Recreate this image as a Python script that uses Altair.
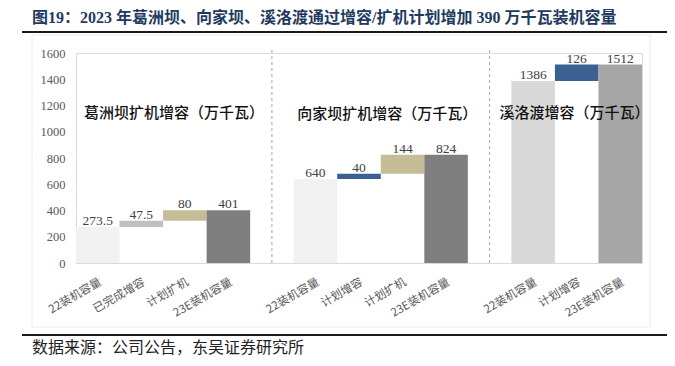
import altair as alt
import pandas as pd

title_text = "图19：2023 年葛洲坝、向家坝、溪洛渡通过增容/扩机计划增加 390 万千瓦装机容量"
source_text = "数据来源：公司公告，东吴证券研究所"

g1_labels = ["22装机容量", "已完成增容", "计划扩机", "23E装机容量"]
g1_values = [273.5, 47.5, 80, 401]
g1_kinds = ["total", "step", "step", "total"]
g1_colors = ["#F2F2F2", "#BFBFBF", "#C4BD97", "#7F7F7F"]

g2_labels = ["22装机容量", "计划增容", "计划扩机", "23E装机容量"]
g2_values = [640, 40, 144, 824]
g2_kinds = ["total", "step", "step", "total"]
g2_colors = ["#F2F2F2", "#3A6191", "#C4BD97", "#7F7F7F"]

g3_labels = ["22装机容量", "计划增容", "23E装机容量"]
g3_values = [1386, 126, 1512]
g3_kinds = ["total", "step", "total"]
g3_colors = ["#D9D9D9", "#3A6191", "#A6A6A6"]

group_titles = ["葛洲坝扩机增容（万千瓦）", "向家坝扩机增容（万千瓦）", "溪洛渡增容（万千瓦）"]
group_title_y = [1143, 1135, 1143]

y_ticks = [0, 200, 400, 600, 800, 1000, 1200, 1400, 1600]

# ---- build table ----
groups = [
    (g1_labels, g1_values, g1_kinds, g1_colors),
    (g2_labels, g2_values, g2_kinds, g2_colors),
    (g3_labels, g3_values, g3_kinds, g3_colors),
]
rows, domain, gap_keys, group_keys = [], [], [], []
for gi, (labs, vals, kinds, cols) in enumerate(groups):
    if gi > 0:
        gk = f"|gap{gi}"
        domain.append(gk)
        gap_keys.append(gk)
    run = 0
    keys = []
    for j, (lab, v, k, c) in enumerate(zip(labs, vals, kinds, cols)):
        key = f"{lab}|{gi}{j}"
        if k == "total":
            start, end = 0, v
            run = v
        else:
            start, end = run, run + v
            run = run + v
        rows.append(dict(key=key, start=start, end=end, color=c, text=f"{v:g}"))
        domain.append(key)
        keys.append(key)
    group_keys.append(keys)

df = pd.DataFrame(rows)

W, H = 566, 210

x_axis = alt.Axis(
    title=None, labelAngle=330, labelExpr="split(datum.label, '|')[0]",
    ticks=False, labelPadding=13, domainColor="#D9D9D9",
    labelFont="Noto Sans CJK SC", labelFontSize=11.5, labelColor="#595959",
    labelOverlap=False,
)
x_scale = alt.Scale(domain=domain, paddingInner=0, paddingOuter=0)
y_scale = alt.Scale(domain=[0, 1600], nice=False)
y_axis = alt.Axis(
    values=y_ticks, format="d", title=None, grid=False, ticks=False, labelPadding=11,
    domainColor="#D9D9D9", labelFont="Liberation Serif", labelFontSize=12.5,
    labelColor="#595959",
)


def X(bp=None):
    if bp is None:
        return alt.X("key:N", scale=x_scale, sort=domain, axis=x_axis)
    return alt.X("key:N", scale=x_scale, sort=domain, axis=x_axis, bandPosition=bp)


def Y(field):
    return alt.Y(field, scale=y_scale, axis=y_axis)


one = pd.DataFrame({"t": [title_text], "s": [source_text]})

border = alt.Chart(one).mark_rect(fillOpacity=0, stroke="#ECECEC", strokeWidth=1).encode(
    x=alt.value(-44), x2=alt.value(574), y=alt.value(-18), y2=alt.value(274)
)

bars = alt.Chart(df).mark_bar(strokeWidth=0).encode(
    x=X(), y=Y("start:Q"), y2="end:Q", color=alt.Color("color:N", scale=None)
)

labels = alt.Chart(df).mark_text(
    baseline="alphabetic", dy=-2, font="Liberation Serif", fontSize=13.5, color="#404040"
).encode(x=X(), y=Y("end:Q"), text="text:N")

dividers = alt.Chart(pd.DataFrame({"key": gap_keys})).mark_rule(
    color="#A6A6A6", strokeDash=[3, 3], strokeWidth=1
).encode(x=X(), y=alt.value(-3), y2=alt.value(H))

ann_specs = [(group_keys[0][2], 0.25), (group_keys[1][2], 0.15), (group_keys[2][1], 0.45)]
ann_layers = []
for (k, bp), txt, yv in zip(ann_specs, group_titles, group_title_y):
    d = pd.DataFrame({"key": [k], "txt": [txt], "y": [yv]})
    ann_layers.append(
        alt.Chart(d).mark_text(
            font="Noto Sans CJK SC", fontSize=15, color="#111111", align="center",
            baseline="middle", fontWeight=500,
        ).encode(x=X(bp), y=Y("y:Q"), text="txt:N")
    )

title = alt.Chart(one).mark_text(
    font="Liberation Serif, Noto Sans CJK SC", fontSize=16, fontWeight="bold",
    color="#1F3A60", align="left", baseline="middle",
).encode(x=alt.value(-44), y=alt.value(-35), text="t:N")

top_line = alt.Chart(one).mark_rule(color="#1A1A1A", strokeWidth=2).encode(
    x=alt.value(-54), x2=alt.value(591), y=alt.value(-21)
)
bottom_line = alt.Chart(one).mark_rule(color="#1A1A1A", strokeWidth=2).encode(
    x=alt.value(-54), x2=alt.value(591), y=alt.value(282)
)
source = alt.Chart(one).mark_text(
    font="Noto Sans CJK SC", fontSize=16, color="#222222", align="left", baseline="middle",
).encode(x=alt.value(-44), y=alt.value(295), text="s:N")

chart = alt.layer(
    border, bars, dividers, labels, *ann_layers, title, top_line, bottom_line, source
).properties(
    width=W, height=H,
    autosize=alt.AutoSizeParams(type="none"),
    padding={"left": 68, "top": 45, "right": 25, "bottom": 95},
).configure_view(stroke=None).configure(background="white")

chart.save("out.html", embed_options={"renderer": "svg", "actions": False})
